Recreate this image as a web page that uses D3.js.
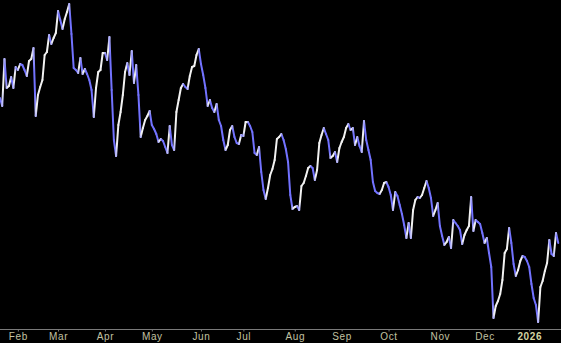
<!DOCTYPE html>
<html>
<head>
<meta charset="utf-8">
<script src="https://cdn.jsdelivr.net/npm/d3@7"></script>
<style>
  html, body { margin: 0; padding: 0; background: #000; }
  svg { display: block; }
</style>
</head>
<body>
<div id="chart"></div>
<script>
// Daily closing level (arbitrary index units), one value per trading day
const closes = [
  232,224,271,242,244,253,242,263,260,266,265,260,254,269,271,282,214,235,243,250,
  275,278,295,286,292,297,319,310,301,311,318,326,296,262,260,257,272,256,261,256,
  250,240,213,242,258,260,277,277,270,293,240,190,174,205,218,235,258,267,255,279,
  247,265,235,193,202,210,214,219,205,201,196,188,191,189,183,177,204,185,180,218,
  230,242,246,243,241,254,263,264,275,281,266,255,242,224,230,222,218,226,210,204,
  190,180,185,200,204,193,187,186,195,194,208,208,204,198,177,175,183,158,140,131,
  142,155,161,170,191,193,196,190,181,168,135,121,123,124,120,144,147,154,162,164,
  162,150,160,187,195,202,196,190,172,174,178,168,182,188,193,202,206,200,202,185,
  193,184,178,209,190,180,170,148,139,137,136,140,147,148,143,135,120,138,134,125,
  116,105,92,107,92,120,130,133,132,135,142,149,142,132,114,120,127,104,94,85,
  88,93,82,110,107,104,100,86,95,100,104,133,99,110,108,106,97,87,92,77,
  63,12,24,29,36,50,77,81,102,87,66,54,60,69,74,73,69,63,46,32,
  25,8,43,49,59,67,90,76,74,97,87
];
// Month labels and the index of the first trading day of each month
const monthLabels = ["Feb","Mar","Apr","May","Jun","Jul","Aug","Sep","Oct","Nov","Dec","2026"];
const monthStart  = [8, 26, 47, 68, 90, 109, 132, 153, 174, 197, 217, 237];

const W = 561, H = 343;
const axisY = 329.5;
const UP = "#f2f2f2", DOWN = "#7272ff";

const svg = d3.select("#chart").append("svg")
  .attr("width", W).attr("height", H)
  .style("background", "#000");

const x = d3.scaleLinear().domain([0, closes.length - 1]).range([0, 558.25]);
const y = d3.scaleLinear().domain(d3.extent(closes)).range([322, 4]);

// axis baseline across the full width
svg.append("line")
  .attr("x1", 0).attr("x2", W)
  .attr("y1", axisY).attr("y2", axisY)
  .attr("stroke", "#7a7a7a").attr("stroke-width", 1);

const axis = d3.axisBottom(x)
  .tickValues(monthStart)
  .tickFormat((d, i) => monthLabels[i])
  .tickSize(2).tickSizeOuter(0).tickPadding(1);

const gAxis = svg.append("g")
  .attr("transform", `translate(0,${axisY})`)
  .call(axis);
gAxis.select(".domain").remove();
gAxis.selectAll(".tick line").attr("stroke", "#7a7a7a");
gAxis.selectAll(".tick text")
  .attr("font-family", "'Liberation Sans', Arial, sans-serif")
  .attr("font-size", 10)
  .attr("letter-spacing", "0.6px")
  .attr("fill", (d, i) => monthLabels[i] === "2026" ? "#d4d4a2" : "#c2c2a2")
  .attr("font-weight", (d, i) => monthLabels[i] === "2026" ? "bold" : "normal");

// segment colours: white when rising, blue when falling
const segs = d3.range(closes.length - 1).map(i => ({
  i, up: closes[i + 1] >= closes[i]
}));
const segColor = s => s.up ? UP : DOWN;
const mix = d3.interpolateRgb;
const vertexColor = j => {
  const a = segs[j - 1], b = segs[j];
  if (!a) return segColor(b);
  if (!b) return segColor(a);
  return mix(segColor(a), segColor(b))(0.5);
};

const defs = svg.append("defs");
const grads = defs.selectAll("linearGradient").data(segs).join("linearGradient")
  .attr("id", d => "g" + d.i)
  .attr("gradientUnits", "userSpaceOnUse")
  .attr("x1", d => x(d.i)).attr("y1", d => y(closes[d.i]))
  .attr("x2", d => x(d.i + 1)).attr("y2", d => y(closes[d.i + 1]));
grads.append("stop").attr("offset", 0).attr("stop-color", d => vertexColor(d.i));
grads.append("stop").attr("offset", 0.35).attr("stop-color", d => segColor(d));
grads.append("stop").attr("offset", 0.65).attr("stop-color", d => segColor(d));
grads.append("stop").attr("offset", 1).attr("stop-color", d => vertexColor(d.i + 1));

svg.append("g").selectAll("line").data(segs).join("line")
  .attr("x1", d => x(d.i)).attr("y1", d => y(closes[d.i]))
  .attr("x2", d => x(d.i + 1)).attr("y2", d => y(closes[d.i + 1]))
  .attr("stroke", d => `url(#g${d.i})`)
  .attr("stroke-width", 2)
  .attr("stroke-linecap", "round");
</script>
</body>
</html>
